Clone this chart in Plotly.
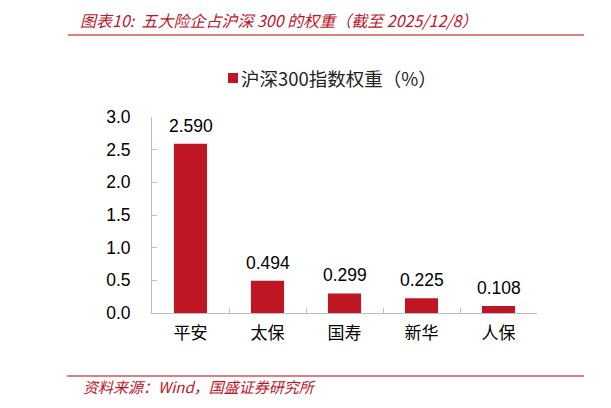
import plotly.graph_objects as go

# data
companies = ["平安", "太保", "国寿", "新华", "人保"]
weights = [2.590, 0.494, 0.299, 0.225, 0.108]
series_name = "沪深300指数权重（%）"
title_text = "图表10:  五大险企占沪深 300 的权重（截至 2025/12/8）"
source_text = "资料来源：Wind，国盛证券研究所"

bar_red = "#BE1622"
rule_red = "#D9535C"
text_red = "#C0142A"
axis_grey = "#BFBFBF"
cjk = "Noto Sans CJK SC, Liberation Sans, sans-serif"
latin = "Liberation Sans, Arial, sans-serif"

# page has an 8px body margin, so the figure is 603x400 and sits at (8, 8)
OFF = 8
L, T, W, H = 152 - OFF, 117 - OFF, 385, 196


def px_x(p):
    return (p - OFF - L) / float(W)


def px_y(p):
    return (T + H - (p - OFF)) / float(H)


fig = go.Figure()
fig.add_trace(go.Bar(x=companies, y=weights, name=series_name, showlegend=False,
                     marker=dict(color=bar_red, line=dict(width=0))))

annotations = []
for c, v in zip(companies, weights):
    annotations.append(dict(x=c, y=v, xref="x", yref="y", text="%.3f" % v, showarrow=False,
                            yanchor="bottom", yshift=6,
                            font=dict(size=17.5, color="#000000", family=latin)))

annotations += [
    dict(text=title_text, xref="paper", yref="paper", x=px_x(79), y=px_y(19.5), xanchor="left", yanchor="middle",
         showarrow=False, borderpad=0, font=dict(size=16, color=text_red, family=cjk, style="italic")),
    dict(text=source_text, xref="paper", yref="paper", x=px_x(81), y=px_y(386), xanchor="left", yanchor="middle",
         showarrow=False, font=dict(size=15, color=text_red, family=cjk, style="italic")),
    dict(text=series_name, xref="paper", yref="paper", x=px_x(239), y=px_y(78), xanchor="left", yanchor="middle",
         showarrow=False, font=dict(size=18.5, color="#222222", family=cjk)),
]

shapes = [
    dict(type="line", xref="paper", yref="paper", x0=px_x(68), x1=px_x(584), y0=px_y(35), y1=px_y(35),
         line=dict(color=rule_red, width=1.5)),
    dict(type="line", xref="paper", yref="paper", x0=px_x(607), x1=px_x(612), y0=px_y(35), y1=px_y(35),
         line=dict(color=rule_red, width=1.5)),
    dict(type="line", xref="paper", yref="paper", x0=px_x(67), x1=px_x(584), y0=px_y(376), y1=px_y(376),
         line=dict(color=rule_red, width=1.5)),
    # legend swatch
    dict(type="rect", xref="paper", yref="paper", x0=px_x(228), x1=px_x(238), y0=px_y(83), y1=px_y(73),
         fillcolor=bar_red, line=dict(width=0)),
]

fig.update_layout(
    width=611 - OFF, height=408 - OFF,
    margin=dict(l=L, r=611 - OFF - L - W, t=T, b=408 - OFF - T - H),
    paper_bgcolor="white", plot_bgcolor="white",
    bargap=0.57,
    showlegend=False,
    shapes=shapes, annotations=annotations,
    font=dict(family=cjk),
)
fig.update_xaxes(showline=True, linecolor=axis_grey, linewidth=1, ticks="inside", ticklen=5,
                 tickcolor=axis_grey, tickson="boundaries", showgrid=False, ticklabelstandoff=5,
                 tickfont=dict(size=17, color="#000000", family=cjk))
fig.update_yaxes(range=[0, 3.0], dtick=0.5, tickformat=".1f", showline=True, linecolor=axis_grey,
                 linewidth=1, ticks="inside", ticklen=5, tickcolor=axis_grey, showgrid=False,
                 zeroline=False, ticklabelstandoff=17,
                 tickfont=dict(size=17.5, color="#000000", family=latin))

fig.write_html("out.html")
